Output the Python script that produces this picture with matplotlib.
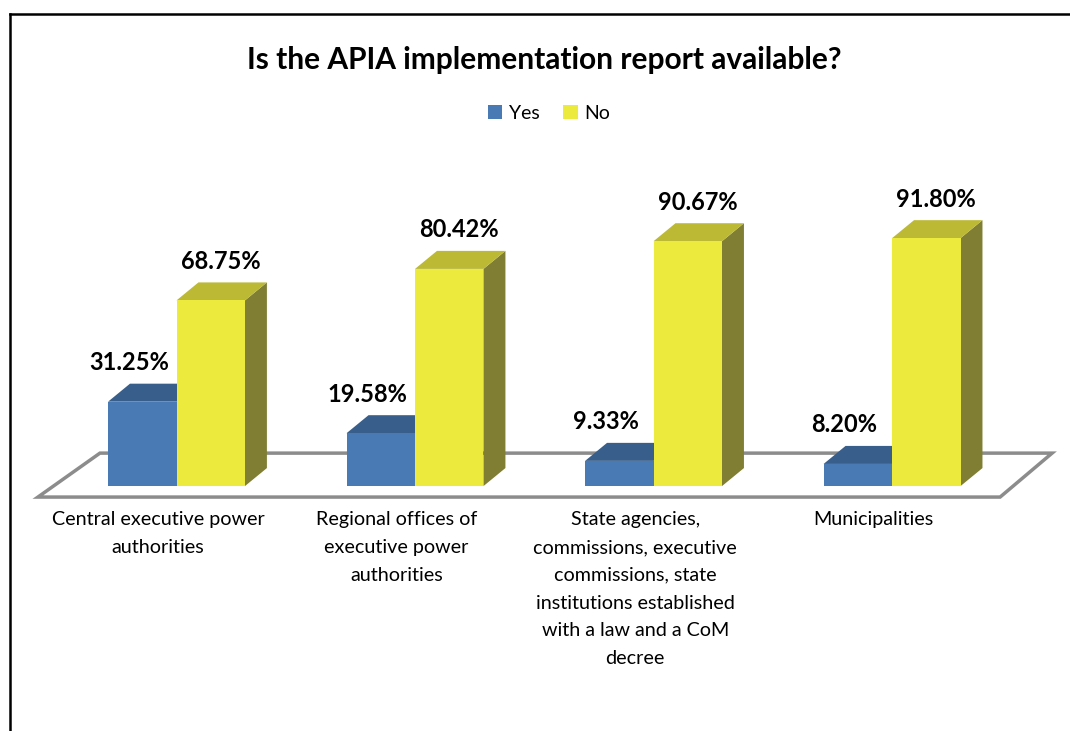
import matplotlib.pyplot as plt
from matplotlib.patches import Patch
from matplotlib.lines import Line2D
import numpy as np

plt.rcParams['font.family'] = ['Lato', 'DejaVu Sans']

# Survey results, percent of institutions
categories = [
    "Central executive power\nauthorities",
    "Regional offices of\nexecutive power\nauthorities",
    "State agencies,\ncommissions, executive\ncommissions, state\ninstitutions established\nwith a law and a CoM\ndecree",
    "Municipalities",
]
series_names = ["Yes", "No"]
yes_vals = [31.25, 19.58, 9.33, 8.20]
no_vals = [68.75, 80.42, 90.67, 91.80]

# colours: front / top / side
blue = ('#4A7AB4', '#385E8B', '#2F4F75')
yellow = ('#EDEA3E', '#BCB934', '#7F7E33')

fig = plt.figure(figsize=(10.7, 7.31), dpi=100)
ax = fig.add_axes([0, 0, 1, 1])
ax.set_xlim(-0.740, 3.746)
ax.set_ylim(-90.7, 180)
ax.axis('off')

x = np.arange(len(categories))
w = 0.287          # bar width (category units)
ddx, ddy = 0.092, 6.67   # depth offset of the pseudo-3D boxes

# floor plane
floor_x = [-0.581, 3.453, 3.671, -0.321, -0.581]
floor_y = [-4.07, -4.07, 12.2, 12.2, -4.07]
ax.fill(floor_x, floor_y, facecolor='white', edgecolor='#8C8C8C', linewidth=2.5, zorder=1)


def box(x0, val, col, z):
    x1 = x0 + w
    # side face
    ax.fill([x1, x1 + ddx, x1 + ddx, x1], [0, ddy, val + ddy, val],
            color=col[2], linewidth=0, zorder=z)
    # top face
    ax.fill([x0, x1, x1 + ddx, x0 + ddx], [val, val, val + ddy, val + ddy],
            color=col[1], linewidth=0, zorder=z)
    # front face
    ax.bar(x0, val, width=w, align='edge', color=col[0], linewidth=0, zorder=z + 0.5)


for i in range(len(categories)):
    box(x[i] - w, yes_vals[i], blue, 2)
    box(x[i], no_vals[i], yellow, 3)

# value labels
for i in range(len(categories)):
    ax.text(x[i] - 0.2, yes_vals[i] + ddy + 7.8, f"{yes_vals[i]:.2f}%",
            ha='center', va='center', fontsize=17, fontweight='bold', zorder=5)
    ax.text(x[i] + 0.185, no_vals[i] + ddy + 7.8, f"{no_vals[i]:.2f}%",
            ha='center', va='center', fontsize=17, fontweight='bold', zorder=5)

# category labels under the floor
for i, lab in enumerate(categories):
    ax.text(x[i] - 0.077, -9.3, lab, ha='center', va='top', fontsize=14.2,
            linespacing=1.77, zorder=5)

fig.text(0.5084, 0.918, "Is the APIA implementation report available?",
         ha='center', va='center', fontsize=21.5, fontweight='bold')

handles = [Patch(facecolor=blue[0]), Patch(facecolor=yellow[0])]
fig.legend(handles, series_names, loc='center', bbox_to_anchor=(0.513, 0.845),
           ncol=2, frameon=False, fontsize=14, handlelength=0.75, handleheight=0.75,
           handletextpad=0.35, columnspacing=1.2)

# outer frame (top and left edges)
fig.add_artist(Line2D([10 / 1070, 10 / 1070], [0, 1 - 14 / 731], color='black', linewidth=1.8))
fig.add_artist(Line2D([10 / 1070, 1], [1 - 14 / 731, 1 - 14 / 731], color='black', linewidth=1.8))

plt.savefig("out.png", dpi=100)
